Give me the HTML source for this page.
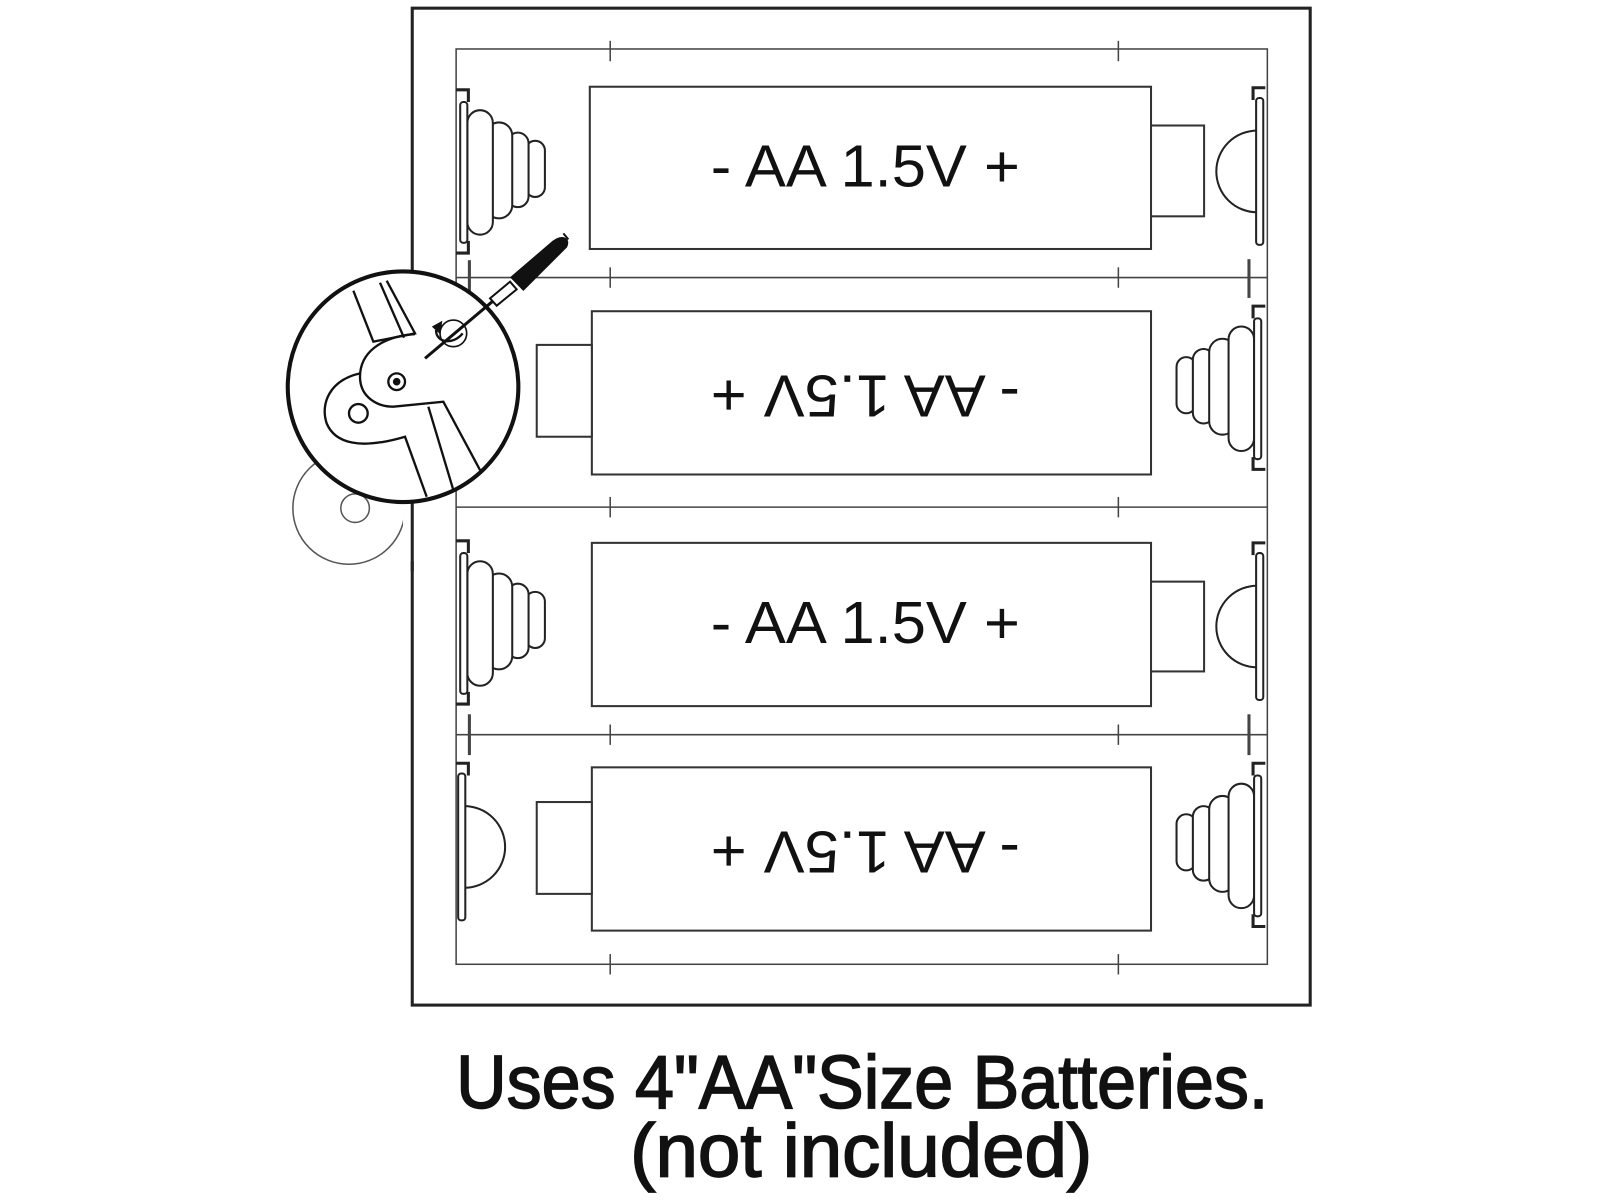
<!DOCTYPE html>
<html><head><meta charset="utf-8"><style>
html,body{margin:0;padding:0;background:#fff;width:1600px;height:1200px;overflow:hidden}
svg{display:block}
</style></head><body>
<svg width="1600" height="1200" viewBox="0 0 1568 1176" preserveAspectRatio="none" xmlns="http://www.w3.org/2000/svg">
<defs>
<g id="springL" fill="#fff" stroke="#222" stroke-width="2">
  <rect x="515" y="-32" width="19" height="55" rx="9.5"/>
  <rect x="497" y="-40" width="21" height="73" rx="10.5"/>
  <rect x="476" y="-50" width="26" height="94" rx="13"/>
  <rect x="458" y="-62" width="25" height="122" rx="12.5"/>
  <rect x="451" y="-70" width="7" height="138" rx="3"/>
  <path d="M447 -82 h12 v12" fill="none" stroke-width="3"/>
  <path d="M447 78 h12 v-12" fill="none" stroke-width="3"/>
</g>
<g id="buttonR" fill="#fff" stroke="#222" stroke-width="2">
  <path d="M1232 -40 A40 40 0 0 0 1232 40"/>
  <rect x="1231" y="-72" width="7" height="144" rx="3"/>
  <path d="M1240 -82 h-12 v12" fill="none" stroke-width="3"/>
</g>
</defs>
<rect width="1568" height="1176" fill="#fff"/>
<rect x="404" y="8" width="880" height="977" fill="none" stroke="#222" stroke-width="3"/>
<rect x="447" y="48" width="795" height="897" fill="none" stroke="#444" stroke-width="1.5"/>
<g stroke="#444" stroke-width="1.5">
<line x1="447" y1="272" x2="1242" y2="272"/>
<line x1="447" y1="497" x2="1242" y2="497"/>
<line x1="447" y1="720" x2="1242" y2="720"/>
<line x1="598" y1="40" x2="598" y2="60"/><line x1="1096" y1="40" x2="1096" y2="60"/>
<line x1="598" y1="262" x2="598" y2="282"/><line x1="1096" y1="262" x2="1096" y2="282"/>
<line x1="598" y1="487" x2="598" y2="507"/><line x1="1096" y1="487" x2="1096" y2="507"/>
<line x1="598" y1="710" x2="598" y2="730"/><line x1="1096" y1="710" x2="1096" y2="730"/>
<line x1="598" y1="935" x2="598" y2="955"/><line x1="1096" y1="935" x2="1096" y2="955"/>
<line x1="1224" y1="254" x2="1224" y2="292" stroke-width="3"/>
<line x1="1224" y1="700" x2="1224" y2="740" stroke-width="3"/>
<line x1="460" y1="255" x2="460" y2="290" stroke-width="3"/>
<line x1="460" y1="700" x2="460" y2="740" stroke-width="3"/>
</g>
<g fill="#fff" stroke="#333" stroke-width="2">
<rect x="578" y="85" width="550" height="159"/>
<rect x="1128" y="123" width="52" height="89"/>
<rect x="580" y="305" width="548" height="160"/>
<rect x="526" y="338" width="54" height="90"/>
<rect x="580" y="532" width="548" height="160"/>
<rect x="1128" y="570" width="52" height="88"/>
<rect x="580" y="752" width="548" height="160"/>
<rect x="526" y="786" width="54" height="90"/>
</g>
<use href="#springL" transform="translate(0,170)"/>
<use href="#springL" transform="translate(0,612)"/>
<use href="#springL" transform="translate(1687,382) scale(-1,1)"/>
<use href="#springL" transform="translate(1687,830) scale(-1,1)"/>
<use href="#buttonR" transform="translate(0,168)"/>
<use href="#buttonR" transform="translate(0,614)"/>
<use href="#buttonR" transform="translate(1687,384) scale(-1,1)"/>
<use href="#buttonR" transform="translate(1687,830) scale(-1,1)"/>
<g font-family="'Liberation Sans', sans-serif" font-size="58" fill="#111" text-anchor="middle">
<text x="848" y="183" textLength="303" lengthAdjust="spacingAndGlyphs">- AA 1.5V +</text>
<text x="848" y="630" textLength="303" lengthAdjust="spacingAndGlyphs">- AA 1.5V +</text>
<text x="848" y="406" textLength="303" lengthAdjust="spacingAndGlyphs" transform="rotate(180 848 387)">- AA 1.5V +</text>
<text x="848" y="853" textLength="303" lengthAdjust="spacingAndGlyphs" transform="rotate(180 848 834)">- AA 1.5V +</text>
</g>
<circle cx="342" cy="498" r="55" fill="#fff" stroke="#555" stroke-width="1.5"/>
<circle cx="348" cy="498" r="14" fill="#fff" stroke="#555" stroke-width="1.5"/>
<rect x="395" y="440" width="12" height="110" fill="#fff"/>
<line x1="404" y1="430" x2="404" y2="560" stroke="#222" stroke-width="3"/>
<circle cx="395" cy="379" r="113" fill="#fff" stroke="#111" stroke-width="4"/>
<g transform="translate(274.4,39.2) scale(0.3267)" fill="none" stroke="#111" stroke-width="7">
<path d="M220 752 L280 905 L405 880 L320 722"/>
<path d="M300 728 L372 893"/>
<path d="M405 882 C300 890 240 940 240 1010 C240 1070 290 1100 340 1100 L490 1085 L600 1290"/>
<path d="M240 1000 C150 1020 120 1090 140 1150 C165 1210 240 1230 375 1190 L440 1370"/>
<path d="M445 1100 L520 1350"/>
<circle cx="350" cy="1025" r="25"/>
<circle cx="235" cy="1120" r="28"/>
<circle cx="350" cy="1025" r="8" fill="#111"/>
<path d="M468 870 C468 910 520 915 548 880"/>
<path d="M458 860 L485 845 L480 880 Z" fill="#111" stroke-width="3"/>
<line x1="435" y1="955" x2="640" y2="782" stroke-width="9"/>
<path d="M630 775 L690 725 L710 748 L650 797 Z" fill="#fff" stroke-width="6"/>
<path d="M695 712 L820 605 C845 585 870 595 858 620 L730 748 Z" fill="#111"/>
<line x1="850" y1="580" x2="865" y2="598" stroke-width="6"/>
<circle cx="520" cy="880" r="40" stroke-width="5"/>
</g>
<g font-family="'Liberation Sans', sans-serif" font-size="74" fill="#111" stroke="#111" stroke-width="1.6" text-anchor="middle">
<text x="845" y="1086" textLength="796" lengthAdjust="spacingAndGlyphs">Uses 4"AA"Size Batteries.</text>
<text x="844" y="1153" textLength="453" lengthAdjust="spacingAndGlyphs">(not included)</text>
</g>
</svg>
</body></html>
